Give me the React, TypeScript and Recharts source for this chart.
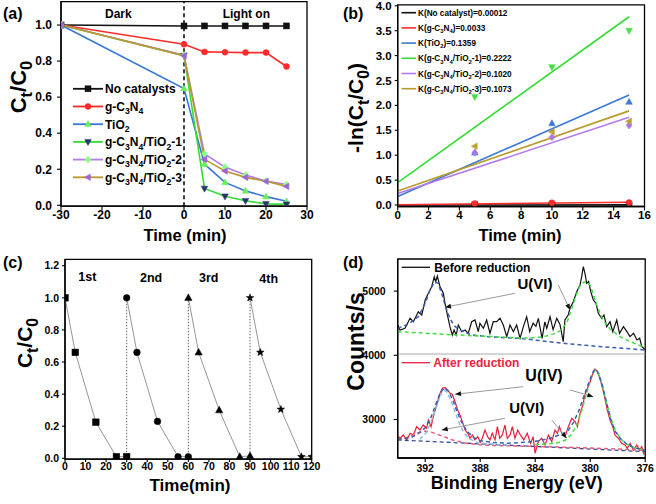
import React from 'react'
import { ComposedChart, Line, XAxis, YAxis, ReferenceLine, ReferenceArea } from 'recharts'

const FONT = "'Liberation Sans', Arial, Helvetica, sans-serif"

// ---------- (a) degradation vs time ----------
const timeA = [-30, 0, 5, 10, 15, 20, 25]
const noCatA = [1.0, 0.995, 0.995, 0.995, 0.995, 0.995, 0.995]
const gcnA = [1.0, 0.893, 0.851, 0.849, 0.847, 0.847, 0.77]
const tio2A = [1.0, 0.648, 0.228, 0.127, 0.08, 0.048, 0.022]
const comp1A = [1.0, 0.83, 0.093, 0.05, 0.025, 0.008, 0.005]
const comp2A = [1.0, 0.833, 0.285, 0.212, 0.168, 0.135, 0.115]
const comp3A = [1.0, 0.83, 0.255, 0.19, 0.155, 0.133, 0.105]
const namesA = ['No catalysts', 'g-C_3N_4', 'TiO_2', 'g-C_3N_4/TiO_2-1', 'g-C_3N_4/TiO_2-2', 'g-C_3N_4/TiO_2-3']
const seriesA = [noCatA, gcnA, tio2A, comp1A, comp2A, comp3A]

// ---------- (b) kinetics ----------
const timeB = [5, 10, 15]
const lnNoCat = [0.003, 0.003, 0.004]
const lnGcn = [0.03, 0.045, 0.05]
const lnTio2 = [1.05, 1.64, 2.07]
const lnComp1 = [2.17, 2.77, 3.5]
const lnComp2 = [1.05, 1.36, 1.6]
const lnComp3 = [1.18, 1.47, 1.68]
const fitX = [0, 15]
const fitNoCat = [0.0, 0.002]
const fitGcn = [0.005, 0.055]
const fitTio2 = [0.17, 2.21]
const fitComp1 = [0.45, 3.78]
const fitComp2 = [0.23, 1.76]
const fitComp3 = [0.28, 1.89]
const namesB = ['No catalyst', 'g-C_3N_4', 'TiO_2', 'g-C_3N_4/TiO_2-1', 'g-C_3N_4/TiO_2-2', 'g-C_3N_4/TiO_2-3']
const kValues = ['0.00012', '0.0033', '0.1359', '0.2222', '0.1020', '0.1073']
const pointsB = [lnNoCat, lnGcn, lnTio2, lnComp1, lnComp2, lnComp3]
const fitsB = [fitNoCat, fitGcn, fitTio2, fitComp1, fitComp2, fitComp3]

// ---------- (c) recycling ----------
const cycleTimes = [
  [0, 5, 15, 25, 30],
  [30, 35, 45, 55, 60],
  [60, 65, 75, 85, 90],
  [90, 95, 105, 115, 120],
]
const cycleValues = [
  [1.0, 0.66, 0.225, 0.01, 0.01],
  [1.0, 0.66, 0.23, 0.01, 0.01],
  [1.0, 0.66, 0.3, 0.01, 0.015],
  [1.0, 0.66, 0.305, 0.01, 0.01],
]
const cycleLabels = ['1st', '2nd', '3rd', '4th']

// ---------- (d) XPS U 4f ----------
const beforeRaw = [
  [394.0, 4470], [393.83, 4394], [393.47, 4420], [393.1, 4576], [392.86, 4523], [392.5, 4679],
  [392.25, 4628], [392.0, 4861], [391.77, 4966], [391.53, 5069], [391.34, 5224], [391.24, 5146],
  [391.12, 5235], [390.92, 5069], [390.68, 4966], [390.56, 4810], [390.36, 4601], [390.2, 4446],
  [390.03, 4316], [389.9, 4394], [389.75, 4316], [389.59, 4472], [389.35, 4368], [389.1, 4394],
  [388.87, 4342], [388.62, 4523], [388.38, 4550], [388.14, 4368], [388.02, 4498], [387.77, 4420],
  [387.53, 4550], [387.29, 4342], [387.05, 4523], [386.8, 4523], [386.56, 4576], [386.32, 4472],
  [386.07, 4290], [385.83, 4472], [385.59, 4368], [385.35, 4472], [385.1, 4265], [384.86, 4446],
  [384.62, 4601], [384.4, 4368], [384.15, 4500], [383.95, 4450], [383.77, 4576], [383.5, 4265],
  [383.3, 4520], [383.16, 4420], [382.92, 4601], [382.7, 4400], [382.43, 4576], [382.2, 4480],
  [381.96, 4212], [381.84, 4550], [381.6, 4628], [381.47, 4732], [381.23, 4835], [380.98, 4991],
  [380.74, 5095], [380.62, 5224], [380.5, 5380], [380.38, 5277], [380.25, 5121], [380.12, 5150],
  [379.96, 4991], [379.77, 4861], [379.58, 4810], [379.41, 4654], [379.16, 4576], [379.0, 4628],
  [378.8, 4446], [378.56, 4523], [378.36, 4368], [378.07, 4550], [377.87, 4342], [377.58, 4446],
  [377.33, 4368], [377.1, 4290], [376.85, 4342], [376.6, 4238], [376.4, 4265], [376.25, 4134],
  [376.0, 4090],
]
const beforeFitGreen = [
  [394, 4368], [392, 4345], [390, 4320], [388, 4300], [386, 4280], [385, 4270], [384, 4272],
  [383.2, 4300], [382.7, 4330], [382.2, 4380], [381.7, 4500], [381.47, 4650], [381.23, 4800],
  [380.98, 4960], [380.74, 5080], [380.5, 5135], [380.25, 5148], [380.0, 5090], [379.77, 4950],
  [379.53, 4790], [379.28, 4650], [379.04, 4540], [378.56, 4410], [377.83, 4290], [377.1, 4215],
  [376.5, 4160], [376, 4120],
]
const beforeFitBlue = [
  [394, 4420], [393.2, 4488], [392.5, 4601], [392.0, 4810], [391.65, 5017], [391.3, 5146],
  [391.07, 5121], [390.8, 4966], [390.56, 4784], [390.3, 4628], [389.95, 4472], [389.5, 4394],
  [388.6, 4316], [387.4, 4290], [386, 4272], [385, 4262], [382, 4187], [379, 4130], [376, 4083],
]
const afterRaw = [
  [394.07, 2759], [393.83, 2707], [393.59, 2759], [393.35, 2681], [393.1, 2785], [392.86, 2759],
  [392.62, 2888], [392.38, 2837], [392.14, 2914], [391.9, 2862], [391.77, 2992], [391.57, 2888],
  [391.41, 3044], [391.24, 3174], [391.1, 3277], [390.92, 3408], [390.75, 3486], [390.56, 3495],
  [390.37, 3460], [390.2, 3408], [390.03, 3393], [389.83, 3277], [389.64, 3148], [389.47, 3070],
  [389.3, 2966], [389.1, 2836], [388.9, 2785], [388.74, 2707], [388.56, 2759], [388.38, 2681],
  [388.18, 2733], [388.0, 2644], [387.85, 2707], [387.65, 2836], [387.46, 2733], [387.29, 2681],
  [387.12, 2785], [386.92, 2681], [386.75, 2888], [386.58, 2707], [386.39, 2759], [386.2, 2914],
  [386.03, 2707], [385.83, 2759], [385.66, 2888], [385.47, 2707], [385.27, 2836], [385.08, 2759],
  [384.83, 2681], [384.58, 2785], [384.34, 2629], [384.15, 2733], [384.01, 2474], [383.77, 2655],
  [383.53, 2707], [383.28, 2603], [383.04, 2759], [382.8, 2655], [382.56, 2836], [382.39, 2785],
  [382.24, 2888], [382.07, 2785], [381.83, 2733], [381.59, 2888], [381.34, 3018], [381.1, 2966],
  [380.93, 2888], [380.74, 3096], [380.54, 3226], [380.38, 3382], [380.2, 3486], [380.0, 3589],
  [379.8, 3720], [379.65, 3787], [379.48, 3746], [379.3, 3642], [379.1, 3486], [378.93, 3330],
  [378.76, 3148], [378.56, 2992], [378.36, 2888], [378.2, 2759], [377.95, 2707], [377.71, 2629],
  [377.47, 2603], [377.3, 2551], [377.1, 2629], [376.85, 2525], [376.61, 2603], [376.42, 2525],
  [376.25, 2577], [376.07, 2447],
]
const afterEnvelope = [
  [394, 2690], [393, 2720], [392.5, 2780], [392, 2870], [391.6, 3020], [391.2, 3250], [390.9, 3420],
  [390.6, 3490], [390.3, 3440], [390.0, 3310], [389.7, 3130], [389.4, 2980], [389.0, 2830],
  [388.5, 2720], [388, 2670], [387, 2640], [386, 2630], [385, 2640], [384, 2660], [383, 2700],
  [382.5, 2740], [382, 2780], [381.6, 2830], [381.2, 2960], [380.8, 3150], [380.4, 3400],
  [380.0, 3630], [379.75, 3760], [379.6, 3785], [379.4, 3720], [379.1, 3520], [378.8, 3250],
  [378.5, 3000], [378.2, 2820], [377.8, 2700], [377.3, 2610], [376.8, 2560], [376, 2520],
]
const afterFitRed = [
  [394, 2680], [393.3, 2720], [392.6, 2790], [392.0, 2820], [391.5, 2800], [391.0, 2760],
  [390.5, 2720], [390, 2680], [389, 2630], [388, 2605], [387, 2595], [386, 2590], [384, 2580],
  [382, 2570], [380, 2555], [378, 2540], [376, 2520],
]
const afterFitLightBlue = [
  [392.4, 2690], [391.9, 2800], [391.5, 3000], [391.1, 3250], [390.8, 3420], [390.6, 3460],
  [390.4, 3420], [390.1, 3280], [389.8, 3100], [389.5, 2930], [389.2, 2800], [388.8, 2700],
  [388.2, 2640], [387.5, 2620], [386, 2600],
]
const afterFitGreen = [
  [384, 2610], [383, 2620], [382.3, 2640], [381.8, 2680], [381.4, 2760], [381.0, 2900],
  [380.6, 3150], [380.2, 3450], [379.9, 3680], [379.65, 3770], [379.4, 3720], [379.1, 3520],
  [378.8, 3250], [378.5, 3020], [378.2, 2840], [377.8, 2700], [377.3, 2610], [376.8, 2560],
  [376, 2520],
]
const afterBaseline = [[394, 2681], [376, 2499]]
const separatorD = 4020
const arrowsD = [
  { from: [385.47, 4966], to: [390.56, 4748] },
  { from: [382.32, 5095], to: [381.47, 4706] },
  { from: [384.87, 3511], to: [389.83, 3393] },
  { from: [381.47, 3460], to: [379.77, 3355] },
  { from: [386.2, 3019], to: [390.8, 2836] },
  { from: [382.8, 2992], to: [381.71, 2707] },
]

// ---------- styles ----------
const colorsA = ['#111111', '#ff2b2b', '#3a78d8', '#33dd33', '#b27ae6', '#b89b2a']
const markersA = ['square', 'circle', 'up', 'down', 'diamond', 'left']
const markerFillA = ['#111111', '#ff2b2b', '#6cee5a', '#27346e', '#8cff8c', '#a060d8']
const markerFillB = ['#111111', '#ff2b2b', '#3a78d8', '#44e044', '#a878e0', '#c0a030']
const cycleMarkers = ['square', 'circle', 'up', 'star']

const toPts = (xs: number[], ys: number[]) => xs.map((x, i) => ({ x, y: ys[i] }))
const toSpec = (pairs: number[][]) => pairs.map(([x, y]) => ({ x, y }))

function Marker({ kind, cx, cy, s = 3.5, fill }: any) {
  if (cx == null || cy == null) return null
  const c = { fill, stroke: fill, strokeWidth: 0.5 }
  switch (kind) {
    case 'square':
      return <rect x={cx - s} y={cy - s} width={2 * s} height={2 * s} {...c} />
    case 'circle':
      return <circle cx={cx} cy={cy} r={s} {...c} />
    case 'up':
      return <polygon points={`${cx},${cy - s * 1.2} ${cx + s * 1.1},${cy + s * 0.8} ${cx - s * 1.1},${cy + s * 0.8}`} {...c} />
    case 'down':
      return <polygon points={`${cx},${cy + s * 1.2} ${cx + s * 1.1},${cy - s * 0.8} ${cx - s * 1.1},${cy - s * 0.8}`} {...c} />
    case 'left':
      return <polygon points={`${cx - s * 1.2},${cy} ${cx + s * 0.8},${cy - s * 1.1} ${cx + s * 0.8},${cy + s * 1.1}`} {...c} />
    case 'diamond':
      return <polygon points={`${cx},${cy - s * 1.2} ${cx + s},${cy} ${cx},${cy + s * 1.2} ${cx - s},${cy}`} {...c} />
    case 'star': {
      const pts: string[] = []
      for (let i = 0; i < 10; i++) {
        const r = i % 2 === 0 ? s * 1.2 : s * 0.5
        const a = -Math.PI / 2 + (i * Math.PI) / 5
        pts.push(`${cx + r * Math.cos(a)},${cy + r * Math.sin(a)}`)
      }
      return <polygon points={pts.join(' ')} {...c} />
    }
  }
  return null
}

// text with _n subscripts (one character after the underscore)
function Chem({ text, x, y, size, fill = '#000', anchor = 'start', rotate = false, weight = 'bold', sub = 0.7 }: any) {
  const parts = text.split(/(_\w)/).filter(Boolean)
  let low = false
  const spans = parts.map((p: string, i: number) => {
    if (p.startsWith('_')) {
      const dy = low ? 0 : size * 0.28
      low = true
      return <tspan key={i} dy={dy} fontSize={size * sub}>{p.slice(1)}</tspan>
    }
    const dy = low ? -size * 0.28 : 0
    low = false
    return <tspan key={i} dy={dy}>{p}</tspan>
  })
  const ty = rotate ? y + size * 0.35 : y
  return (
    <text x={x} y={ty} fontSize={size} fontFamily={FONT} fontWeight={weight} fill={fill} textAnchor={anchor}
      transform={rotate ? `rotate(-90 ${x} ${y})` : undefined}>
      {spans}
    </text>
  )
}

const axisLine = { stroke: '#000', strokeWidth: 1.3 }
const tickLine = { stroke: '#000', strokeWidth: 1.1 }
const tickStyle = (fs: number) => ({ fill: '#000', fontSize: fs, fontWeight: 'bold', fontFamily: FONT })
const fmt1 = (v: number) => v.toFixed(1)
const layer: React.CSSProperties = { position: 'absolute', left: 0, top: 0 }

const arrowShape = (p: any) => {
  const { x1, y1, x2, y2 } = p
  const a = Math.atan2(y2 - y1, x2 - x1)
  const L = 6, W = 2.4
  const bx = x2 - L * Math.cos(a), by = y2 - L * Math.sin(a)
  const pts = `${x2},${y2} ${bx - W * Math.sin(a)},${by + W * Math.cos(a)} ${bx + W * Math.sin(a)},${by - W * Math.cos(a)}`
  return (
    <g>
      <line x1={x1} y1={y1} x2={x2} y2={y2} stroke="#9a9a9a" strokeWidth={1} />
      <polygon points={pts} fill="#111" />
    </g>
  )
}

function PanelA() {
  return (
    <div style={layer}>
      <ComposedChart width={656} height={504} margin={{ top: 1.6, right: 349, bottom: 267.8, left: 21 }}>
        <XAxis type="number" dataKey="x" domain={[-30, 30]} ticks={[-30, -20, -10, 0, 10, 20, 30]} allowDataOverflow
          height={30} tickSize={4} tickMargin={0} tick={tickStyle(12)} axisLine={axisLine} tickLine={tickLine} />
        <YAxis type="number" domain={[-0.005, 1.13]} ticks={[0, 0.2, 0.4, 0.6, 0.8, 1.0]} allowDataOverflow
          width={40} tickSize={4} tickMargin={5} tickFormatter={fmt1} tick={tickStyle(12)} axisLine={axisLine} tickLine={tickLine} />
        <ReferenceArea x1={-30} x2={30} y1={-0.005} y2={1.13} fill="none" stroke="#000" strokeWidth={1.3} ifOverflow="visible" />
        <ReferenceLine x={0} stroke="#000" strokeWidth={1.5} strokeDasharray="4 3" />
        {seriesA.map((ys, k) => (
          <Line key={k} data={toPts(timeA, ys)} dataKey="y" type="linear" stroke={colorsA[k]} strokeWidth={1.6}
            isAnimationActive={false}
            dot={(p: any) => <Marker key={`a${k}-${p.index}`} kind={markersA[k]} cx={p.cx} cy={p.cy} s={3} fill={markerFillA[k]} />} />
        ))}
      </ComposedChart>
    </div>
  )
}

function PanelB() {
  return (
    <div style={layer}>
      <ComposedChart width={656} height={504} margin={{ top: 4.8, right: 11.5, bottom: 267.5, left: 357.7 }}>
        <XAxis type="number" dataKey="x" domain={[0, 16]} ticks={[0, 2, 4, 6, 8, 10, 12, 14, 16]} allowDataOverflow
          height={30} tickSize={4} tickMargin={0} tick={tickStyle(11.5)} axisLine={axisLine} tickLine={tickLine} />
        <YAxis type="number" domain={[-0.03, 4.02]} ticks={[0, 0.5, 1, 1.5, 2, 2.5, 3, 3.5, 4]} allowDataOverflow
          width={40} tickSize={3} tickMargin={3} tickFormatter={fmt1} tick={tickStyle(11.5)} axisLine={axisLine} tickLine={tickLine} />
        <ReferenceArea x1={0} x2={16} y1={-0.03} y2={4.02} fill="none" stroke="#000" strokeWidth={1.3} ifOverflow="visible" />
        {fitsB.map((ys, k) => (
          <Line key={`f${k}`} data={toPts(fitX, ys)} dataKey="y" type="linear" stroke={colorsA[k]} strokeWidth={1.6}
            dot={false} isAnimationActive={false} />
        ))}
        {pointsB.map((ys, k) => (
          <Line key={`p${k}`} data={toPts(timeB, ys)} dataKey="y" stroke="none" isAnimationActive={false}
            dot={(p: any) => <Marker key={`b${k}-${p.index}`} kind={markersA[k]} cx={p.cx} cy={p.cy} s={3} fill={markerFillB[k]} />} />
        ))}
      </ComposedChart>
    </div>
  )
}

function PanelC() {
  return (
    <div style={layer}>
      <ComposedChart width={656} height={504} margin={{ top: 259.3, right: 344.3, bottom: 14.9, left: 25 }}>
        <XAxis type="number" dataKey="x" domain={[0, 120]} ticks={[0, 10, 20, 30, 40, 50, 60, 70, 80, 90, 100, 110, 120]} allowDataOverflow
          height={30} tickSize={3} tickMargin={0} tick={tickStyle(10.5)} axisLine={axisLine} tickLine={tickLine} interval={0} />
        <YAxis type="number" domain={[-0.005, 1.24]} ticks={[0, 0.2, 0.4, 0.6, 0.8, 1.0, 1.2]} allowDataOverflow
          width={40} tickSize={3} tickMargin={3} tickFormatter={fmt1} tick={tickStyle(10.5)} axisLine={axisLine} tickLine={tickLine} />
        <ReferenceArea x1={0} x2={120} y1={-0.005} y2={1.24} fill="none" stroke="#000" strokeWidth={1.3} ifOverflow="visible" />
        {cycleTimes.slice(1).map((ts, k) => (
          <ReferenceLine key={`v${k}`} segment={[{ x: ts[0], y: 0 }, { x: ts[0], y: cycleValues[k + 1][0] }]}
            stroke="#666" strokeWidth={1} strokeDasharray="1.5 1.5" />
        ))}
        {cycleTimes.map((ts, k) => (
          <Line key={k} data={toPts(ts, cycleValues[k])} dataKey="y" type="linear" stroke="#8a8a8a" strokeWidth={0.9}
            isAnimationActive={false}
            dot={(p: any) => <Marker key={`c${k}-${p.index}`} kind={cycleMarkers[k]} cx={p.cx} cy={p.cy} s={3.3} fill="#000" />} />
        ))}
      </ComposedChart>
    </div>
  )
}

function PanelD() {
  const dash = '4 3'
  return (
    <div style={layer}>
      <ComposedChart width={656} height={504} margin={{ top: 259, right: 10.8, bottom: 16, left: 357.7 }}>
        <XAxis type="number" dataKey="x" domain={[376, 394]} reversed ticks={[392, 388, 384, 380, 376]} allowDataOverflow
          height={30} tickSize={4} tickMargin={3} tick={tickStyle(10.5)} axisLine={axisLine} tickLine={tickLine} />
        <YAxis type="number" domain={[2400, 5500]} ticks={[3000, 4000, 5000]} allowDataOverflow
          width={40} tickSize={4} tickMargin={8} tick={tickStyle(10.5)} axisLine={axisLine} tickLine={tickLine} />
        <ReferenceArea x1={376} x2={394} y1={2400} y2={5500} fill="none" stroke="#000" strokeWidth={1.3} ifOverflow="visible" />
        <ReferenceLine y={separatorD} stroke="#aaaaaa" strokeWidth={1} />
        <Line data={toSpec(beforeRaw)} dataKey="y" stroke="#111" strokeWidth={1.2} dot={false} isAnimationActive={false} />
        <Line data={toSpec(afterRaw)} dataKey="y" stroke="#e8203c" strokeWidth={1.2} dot={false} isAnimationActive={false} />
        <Line data={toSpec(beforeFitBlue)} dataKey="y" stroke="#3a5fb0" strokeWidth={1.5} strokeDasharray={dash} dot={false} isAnimationActive={false} />
        <Line data={toSpec(beforeFitGreen)} dataKey="y" stroke="#44dd44" strokeWidth={1.5} strokeDasharray={dash} dot={false} isAnimationActive={false} />
        <Line data={toSpec(afterBaseline)} dataKey="y" stroke="#3a4a90" strokeWidth={1.3} strokeDasharray={dash} dot={false} isAnimationActive={false} />
        <Line data={toSpec(afterFitRed)} dataKey="y" stroke="#ee5577" strokeWidth={1.4} strokeDasharray={dash} dot={false} isAnimationActive={false} />
        <Line data={toSpec(afterFitLightBlue)} dataKey="y" stroke="#8ab8dd" strokeWidth={1.4} strokeDasharray={dash} dot={false} isAnimationActive={false} />
        <Line data={toSpec(afterFitGreen)} dataKey="y" stroke="#44dd44" strokeWidth={1.5} strokeDasharray={dash} dot={false} isAnimationActive={false} />
        <Line data={toSpec(afterEnvelope)} dataKey="y" stroke="#3a5fb0" strokeWidth={1.5} strokeDasharray={dash} dot={false} isAnimationActive={false} />
        {arrowsD.map((a, k) => (
          <ReferenceLine key={`ar${k}`} segment={[{ x: a.from[0], y: a.from[1] }, { x: a.to[0], y: a.to[1] }]} shape={arrowShape} />
        ))}
      </ComposedChart>
    </div>
  )
}

function Overlay() {
  const legendRowsA = namesA.map((_, i) => 88.8 + 17.7 * i)
  const legendRowsB = namesB.map((_, i) => 12.7 + 15.2 * i)
  return (
    <svg width={656} height={504} style={{ ...layer, pointerEvents: 'none' }}>
      {/* panel letters */}
      <text x={3} y={19} fontSize={16} fontFamily={FONT} fontWeight="bold">(a)</text>
      <text x={343} y={19} fontSize={16} fontFamily={FONT} fontWeight="bold">(b)</text>
      <text x={3} y={268} fontSize={16} fontFamily={FONT} fontWeight="bold">(c)</text>
      <text x={343} y={268} fontSize={16} fontFamily={FONT} fontWeight="bold">(d)</text>

      {/* (a) */}
      <text x={105} y={18.3} fontSize={12} fontFamily={FONT} fontWeight="bold">Dark</text>
      <text x={222.7} y={18.3} fontSize={12} fontFamily={FONT} fontWeight="bold">Light on</text>
      {namesA.map((n, i) => (
        <g key={n}>
          <line x1={73} x2={103} y1={legendRowsA[i]} y2={legendRowsA[i]} stroke={colorsA[i]} strokeWidth={1.8} />
          <Marker kind={markersA[i]} cx={88} cy={legendRowsA[i]} s={3} fill={markerFillA[i]} />
          <Chem text={n} x={105} y={legendRowsA[i] + 4.3} size={12} sub={0.72} />
        </g>
      ))}
      <Chem text="Time (min)" x={185} y={241} size={16.5} anchor="middle" />
      <Chem text="C_t/C_0" x={18} y={87} size={22} anchor="middle" rotate sub={0.75} />

      {/* (b) */}
      {namesB.map((n, i) => (
        <g key={n}>
          <line x1={401.5} x2={416} y1={legendRowsB[i]} y2={legendRowsB[i]} stroke={colorsA[i]} strokeWidth={1.6} />
          <Chem text={`K(${n})=${kValues[i]}`} x={418} y={legendRowsB[i] + 3} size={8.2} sub={0.72} />
        </g>
      ))}
      <Chem text="Time (min)" x={520} y={241} size={16.5} anchor="middle" />
      <Chem text="-ln(C_t/C_0)" x={356} y={108} size={21} anchor="middle" rotate sub={0.75} />

      {/* (c) */}
      {cycleLabels.map((l, i) => (
        <text key={l} x={[78.3, 140, 199, 259.3][i]} y={[280.7, 281.7, 282.3, 283.3][i]} fontSize={12.5} fontFamily={FONT} fontWeight="bold">{l}</text>
      ))}
      <Chem text="Time(min)" x={190} y={490.5} size={17} anchor="middle" />
      <Chem text="C_t/C_0" x={25} y={343} size={21} anchor="middle" rotate sub={0.75} />

      {/* (d) */}
      <line x1={401.7} x2={430} y1={267.3} y2={267.3} stroke="#111" strokeWidth={1.3} />
      <text x={434.3} y={271.7} fontSize={12} fontFamily={FONT} fontWeight="bold">Before reduction</text>
      <line x1={401.7} x2={430} y1={362.7} y2={362.7} stroke="#e8203c" strokeWidth={1.3} />
      <text x={433.3} y={366.7} fontSize={12} fontFamily={FONT} fontWeight="bold" fill="#ee2244">After reduction</text>
      <text x={535} y={289} fontSize={15} fontFamily={FONT} fontWeight="bold" textAnchor="middle">U(VI)</text>
      <text x={544} y={381} fontSize={16} fontFamily={FONT} fontWeight="bold" textAnchor="middle">U(IV)</text>
      <text x={526.7} y={413.3} fontSize={15} fontFamily={FONT} fontWeight="bold" textAnchor="middle">U(VI)</text>
      <Chem text="Binding Energy (eV)" x={516.7} y={489.3} size={18} anchor="middle" />
      <Chem text="Counts/s" x={355.5} y={341.5} size={23} anchor="middle" rotate />
    </svg>
  )
}

export default function App() {
  return (
    <div style={{ position: 'absolute', left: 0, top: 0, width: 656, height: 504, background: '#fff', overflow: 'hidden' }}>
      <PanelA />
      <PanelB />
      <PanelC />
      <PanelD />
      <Overlay />
    </div>
  )
}
